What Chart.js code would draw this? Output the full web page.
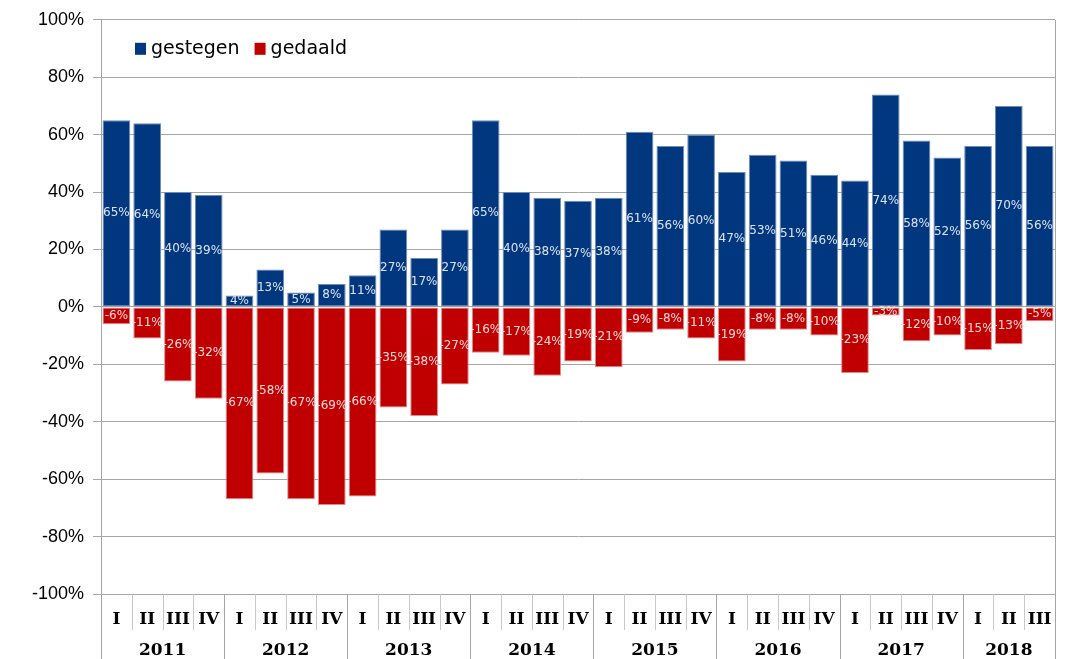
<!DOCTYPE html>
<html>
<head>
<meta charset="utf-8">
<script src="https://cdn.jsdelivr.net/npm/chart.js@4"></script>
<style>
  html, body { margin: 0; padding: 0; background: #fff; }
  #wrap { width: 1065px; height: 659px; }
</style>
</head>
<body>
<div id="wrap"><canvas id="chart" width="1065" height="659"></canvas></div>
<script>
// kwartalen en jaren
const quarters = ['I','II','III','IV','I','II','III','IV','I','II','III','IV','I','II','III','IV',
                  'I','II','III','IV','I','II','III','IV','I','II','III','IV','I','II','III'];
const years = ['2011','2012','2013','2014','2015','2016','2017','2018'];
const quartersPerYear = [4, 4, 4, 4, 4, 4, 4, 3];

// percentages
const gestegen = [65, 64, 40, 39, 4, 13, 5, 8, 11, 27, 17, 27, 65, 40, 38, 37,
                  38, 61, 56, 60, 47, 53, 51, 46, 44, 74, 58, 52, 56, 70, 56];
const gedaald = [-6, -11, -26, -32, -67, -58, -67, -69, -66, -35, -38, -27, -16, -17, -24, -19,
                 -21, -9, -8, -11, -19, -8, -8, -10, -23, -3, -12, -10, -15, -13, -5];

const yTicks = [-100, -80, -60, -40, -20, 0, 20, 40, 60, 80, 100];

// labels in the bars
const barLabels = {
    id: 'barLabels',
    afterDatasetsDraw(chart) {
        const ctx = chart.ctx;
        ctx.save();
        ctx.font = '12px "DejaVu Sans"';
        ctx.textAlign = 'center';
        ctx.textBaseline = 'middle';
        chart.data.datasets.forEach((ds, i) => {
            ctx.fillStyle = i === 0 ? '#dce3f0' : '#fad8d8';
            chart.getDatasetMeta(i).data.forEach((bar, j) => {
                const y = (bar.y + bar.base) / 2;
                ctx.fillText(ds.data[j] + '%', bar.x, y);
            });
        });
        ctx.restore();
    }
};

// legend inside the plot, separators and years under the axis
const extras = {
    id: 'extras',
    afterDraw(chart) {
        const ctx = chart.ctx;
        const area = chart.chartArea;
        const x = chart.scales.x;
        const step = x.getPixelForValue(1) - x.getPixelForValue(0);
        ctx.save();

        // right border of plot
        ctx.strokeStyle = '#a6a6a6';
        ctx.lineWidth = 1;
        ctx.beginPath();
        ctx.moveTo(Math.round(area.right) + 0.5, area.top);
        ctx.lineTo(Math.round(area.right) + 0.5, area.bottom);
        ctx.stroke();

        // separators between quarters / years
        let yearStarts = [0];
        quartersPerYear.reduce((acc, n) => { yearStarts.push(acc + n); return acc + n; }, 0);
        for (let i = 0; i <= quarters.length; i++) {
            const px = Math.round(x.getPixelForValue(i) - step / 2) + 0.5;
            const isYear = yearStarts.includes(i);
            ctx.strokeStyle = isYear ? '#a6a6a6' : '#c8c8c8';
            ctx.beginPath();
            ctx.moveTo(px, area.bottom);
            ctx.lineTo(px, isYear ? chart.height : area.bottom + 36);
            ctx.stroke();
        }

        // year labels
        ctx.fillStyle = '#000';
        ctx.font = 'bold 17px "DejaVu Serif"';
        ctx.textAlign = 'center';
        ctx.textBaseline = 'middle';
        years.forEach((yr, k) => {
            const a = yearStarts[k];
            const b = yearStarts[k] + quartersPerYear[k] - 1;
            const cx = (x.getPixelForValue(a) + x.getPixelForValue(b)) / 2;
            ctx.fillText(yr, cx, area.bottom + 57);
        });

        // legend
        ctx.font = '19px "DejaVu Sans"';
        ctx.textAlign = 'left';
        let lx = area.left + 34;
        const ly = area.top + 28;
        chart.data.datasets.forEach(ds => {
            ctx.fillStyle = ds.backgroundColor;
            ctx.fillRect(lx, ly - 5, 11, 12);
            lx += 16;
            ctx.fillStyle = '#000';
            ctx.fillText(ds.label, lx, ly + 1);
            lx += ctx.measureText(ds.label).width + 15;
        });
        ctx.restore();
    }
};

new Chart(document.getElementById('chart').getContext('2d'), {
    type: 'bar',
    data: {
        labels: quarters,
        datasets: [{
            label: 'gestegen',
            data: gestegen,
            backgroundColor: '#00377f',
            borderColor: '#6f8db8',
            borderWidth: 1,
            borderSkipped: false
        }, {
            label: 'gedaald',
            data: gedaald,
            backgroundColor: '#c00000',
            borderColor: '#e08a8a',
            borderWidth: 1,
            borderSkipped: false
        }]
    },
    options: {
        responsive: false,
        animation: false,
        devicePixelRatio: 1,
        layout: { padding: { top: 18, right: 10, left: 0, bottom: 0 } },
        datasets: { bar: { barPercentage: 0.9, categoryPercentage: 1.0 } },
        plugins: {
            legend: { display: false },
            tooltip: { enabled: false }
        },
        scales: {
            x: {
                stacked: true,
                grid: { display: false, drawTicks: false },
                border: { display: true, color: '#a6a6a6' },
                ticks: {
                    color: '#000',
                    font: { family: '"DejaVu Serif"', size: 17, weight: 'bold' },
                    padding: 15,
                    maxRotation: 0,
                    autoSkip: false
                },
                afterFit(scale) {
                    scale.height = 65;
                    scale.paddingLeft = 0;
                    scale.paddingRight = 0;
                }
            },
            y: {
                stacked: true,
                min: -100,
                max: 100,
                afterBuildTicks(scale) { scale.ticks = yTicks.map(v => ({ value: v })); },
                grid: { color: '#a6a6a6', tickLength: 8 },
                border: { display: true, color: '#a6a6a6' },
                ticks: {
                    color: '#000',
                    font: { family: '"Liberation Sans"', size: 18 },
                    padding: 9,
                    callback: v => v + '%'
                },
                afterFit(scale) { scale.width = 101; }
            }
        }
    },
    plugins: [barLabels, extras]
});
</script>
</body>
</html>
